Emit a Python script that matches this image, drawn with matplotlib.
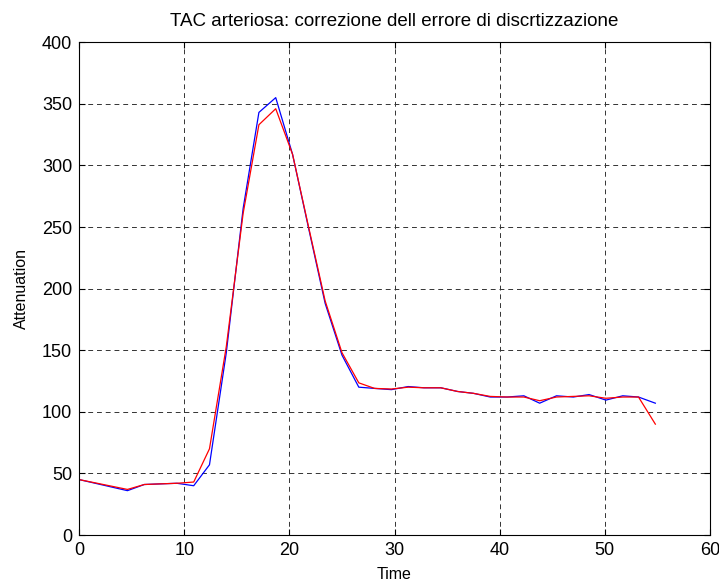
import matplotlib.pyplot as plt

plt.rcParams['font.family'] = ['Liberation Sans', 'DejaVu Sans']

# tempi di campionamento
tempo = [0, 4.6, 6.2, 7.7, 9.3, 10.9, 12.4, 14.0, 15.6, 17.1, 18.7, 20.3,
         21.8, 23.4, 25.0, 26.6, 28.1, 29.7, 31.3, 32.8, 34.4, 36.0, 37.5,
         39.1, 40.7, 42.3, 43.8, 45.4, 47.0, 48.5, 50.1, 51.7, 53.2, 54.8]

# curva originale (blu)
tac_blu = [45, 36, 41, 41.5, 42, 40, 57, 148, 265, 343, 355, 309,
           250, 188, 146, 120, 119, 118, 120.5, 119.5, 119.5, 116.5, 115,
           112, 112, 113, 107, 113, 112, 114, 109.5, 113, 112, 107]

# curva corretta (rossa)
tac_rossa = [45, 37, 41, 41.5, 42, 43, 70, 153, 261, 333, 346, 309,
             251, 190, 148, 123.5, 119, 118.5, 120, 119.5, 119.5, 116.5, 115,
             112.5, 112, 112, 109, 112, 112.5, 113, 111, 112, 112, 90]

fig = plt.figure(figsize=(7.19, 5.86), dpi=100)
ax = fig.add_axes([0.110, 0.087, 0.8775, 0.841])

ax.plot(tempo, tac_blu, color='b', lw=0.9)
ax.plot(tempo, tac_rossa, color='r', lw=0.9)

ax.set_xlim(0, 60)
ax.set_ylim(0, 400)
ax.set_xticks(range(0, 61, 10))
ax.set_yticks(range(0, 401, 50))
ax.grid(True, color='0.2', linestyle=(0, (5, 4)), lw=0.7)
ax.tick_params(direction='in', top=True, right=True, labelsize=13, length=4, pad=5)
for s in ax.spines.values():
    s.set_linewidth(0.8)

ax.set_title('TAC arteriosa: correzione dell errore di discrtizzazione', fontsize=13.5, pad=12)
ax.set_xlabel('Time', fontsize=11.5, labelpad=6)
ax.set_ylabel('Attenuation', fontsize=11.5, labelpad=9)

fig.savefig('out.png', dpi=100)
